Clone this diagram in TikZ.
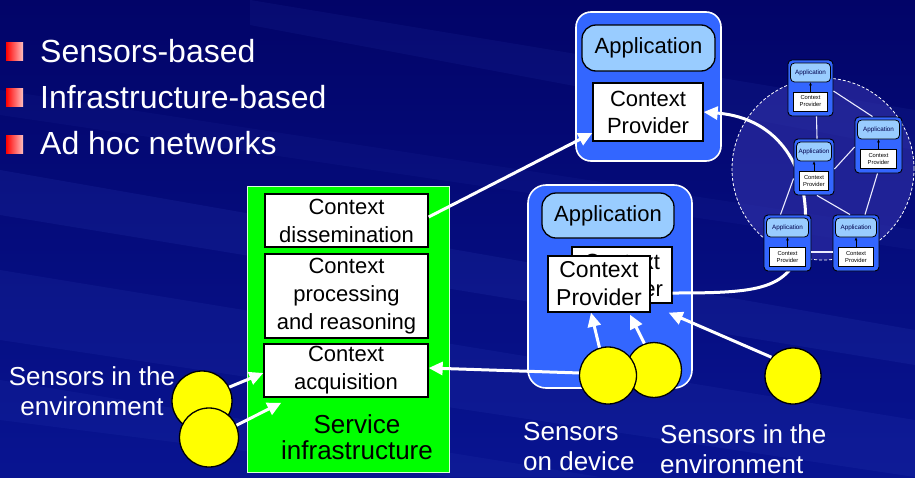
\documentclass[tikz,border=0pt]{standalone}
\usepackage{fontspec}
\setmainfont{Liberation Sans}
\usetikzlibrary{arrows.meta,shapes.geometric}
\definecolor{bgtop}{RGB}{2,4,104}
\definecolor{bgbot}{RGB}{8,20,145}
\definecolor{streak}{RGB}{60,80,200}
\definecolor{appblue}{RGB}{51,102,255}
\definecolor{applight}{RGB}{153,204,255}
\definecolor{infragreen}{RGB}{0,255,0}
\definecolor{sensy}{RGB}{255,255,0}
\definecolor{circfill}{RGB}{50,50,170}
\newcommand\fsz[2]{\fontsize{#1}{#2}\selectfont}
\newcommand\adhoc[4]{%
  \node[miniouter,minimum width=#4pt] (#1) at (#2,#3+28) {};
  \node[miniapp,minimum width=#4pt-5pt] (#1app) at (#2,#3+12.5) {Application};
  \node[minicp,minimum width=#4pt-11pt] (#1cp) at (#2,#3+41.5) {Context\\Provider};
  \draw[black,line width=0.6pt,-{Triangle[length=3pt,width=2.5pt]}] (#1cp.north) -- (#1app.south);
}
\begin{document}
\begin{tikzpicture}[x=1pt,y=-1pt,
 bigouter/.style={draw=white,line width=1.6pt,fill=appblue,rounded corners=15pt,inner sep=0pt},
 appin/.style={draw=black,line width=1.3pt,fill=applight,rounded corners=14pt,inner sep=0pt,font=\fsz{22}{27}},
 cpbox/.style={draw=black,line width=1.3pt,fill=white,inner sep=0pt,align=center,font=\fsz{22}{27}},
 infrabox/.style={draw=black,line width=1.3pt,fill=white,inner sep=0pt,align=center,font=\fsz{22}{28}},
 sensor/.style={circle,draw=black,line width=1.3pt,fill=sensy,inner sep=0pt},
 warrow/.style={draw=white,line width=3pt,-{Triangle[length=14pt,width=13pt]}},
 wline/.style={draw=white,line width=3pt},
 senslabel/.style={text=white,inner sep=0pt,font=\fsz{26}{30}},
 bullettext/.style={text=white,inner sep=0pt,anchor=base west,font=\fsz{32}{36}},
 miniouter/.style={draw=black,line width=0.9pt,fill=appblue,rounded corners=4pt,inner sep=0pt,minimum height=56pt},
 miniapp/.style={draw=black,line width=0.8pt,fill=applight,rounded corners=4pt,inner sep=0pt,minimum height=19pt,font=\fsz{6.3}{7},text=black!70!blue},
 minicp/.style={draw=black,line width=0.7pt,fill=white,inner sep=0pt,minimum height=19pt,align=center,font=\fsz{5.8}{7}},
 meshline/.style={draw=white!92!blue,line width=1.1pt},
]
\clip (0,0) rectangle (915,477);
% background
\shade[top color=bgtop,bottom color=bgbot] (0,0) rectangle (915,477);
\fill[streak,opacity=0.14] (0,170) -- (915,330) -- (915,365) -- (0,215) -- cycle;
\fill[streak,opacity=0.12] (0,270) -- (915,420) -- (915,477) -- (0,340) -- cycle;
\fill[streak,opacity=0.10] (250,0) -- (915,110) -- (915,150) -- (250,25) -- cycle;
\fill[streak,opacity=0.10] (0,380) -- (600,477) -- (450,477) -- (0,420) -- cycle;
\fill[streak,opacity=0.08] (0,90) -- (915,230) -- (915,250) -- (0,115) -- cycle;

% bullets
\foreach \yy in {51,97.5,144} {
  \shade[left color=red,right color=white!75!red] (6,\yy-9) rectangle (23,\yy+9);
}
\node[bullettext] (b1) at (40,62) {Sensors-based};
\node[bullettext] (b2) at (40,108) {Infrastructure-based};
\node[bullettext] (b3) at (40,154) {Ad hoc networks};

% ad hoc cloud
\draw[white,line width=0.8pt,dash pattern=on 3pt off 2pt,fill=circfill,fill opacity=0.6] (823,169) circle[radius=91pt];

% top application
\node[bigouter,minimum width=145pt,minimum height=149pt] (topbox) at (648.5,86.5) {};
\node[appin,minimum width=133pt,minimum height=46pt] (topapp) at (648.5,48) {Application};
\node[cpbox,minimum width=110pt,minimum height=58pt] (topcp) at (648,112) {Context\\Provider};

% second application
\node[bigouter,rounded corners=18pt,minimum width=164pt,minimum height=203pt] (devbox) at (610,286.5) {};
\node[appin,minimum width=132pt,minimum height=45pt] (devapp) at (608,215.5) {Application};
\node[cpbox,minimum width=100pt,minimum height=56pt] (bcp) at (622,275) {Context\\Provider};
\node[cpbox,font=\fsz{23}{28},minimum width=102pt,minimum height=56pt] (fcp) at (599,284) {Context\\Provider};

% service infrastructure
\node[draw=white!85!green,line width=1pt,fill=infragreen,inner sep=0pt,minimum width=202pt,minimum height=286pt] (infra) at (348,329) {};
\node[infrabox,minimum width=163pt,minimum height=53pt] (diss) at (346.5,220.5) {Context\\dissemination};
\node[infrabox,minimum width=163pt,minimum height=84pt] (proc) at (346.5,296) {Context\\processing\\and reasoning};
\node[infrabox,minimum width=164pt,minimum height=53pt] (acq) at (346,370.5) {Context\\acquisition};
\node[inner sep=0pt,align=center,anchor=north,font=\fsz{26}{26}] (infralabel) at (357,414) {Service\\infrastructure};

% arcs from the ad hoc network
\coordinate (hub) at (805,230);
\draw[warrow] (hub) .. controls (810,170) and (780,118) .. (topcp.east);
\draw[wline] (hub) .. controls (795,290) and (765,293) .. ([yshift=-18pt]bcp.east);

% ad hoc nodes
\adhoc{nt}{810.5}{60}{45}
\adhoc{nm}{814}{139}{40}
\adhoc{nr}{878.5}{117}{47}
\adhoc{nbl}{787.5}{215}{47}
\adhoc{nbr}{856}{215}{46}
\draw[meshline] ([xshift=6pt]nt.south) -- ([xshift=3pt]nm.north);
\draw[meshline] ([yshift=-3pt]nt.east) -- ([xshift=-6pt]nr.north);
\draw[meshline] ([yshift=17pt]nm.south west) -- ([xshift=-7pt]nbl.north);
\draw[meshline] ([yshift=-2pt]nm.east) -- ([yshift=-2pt]nr.west);
\draw[meshline] ([xshift=3pt]nm.south) -- ([xshift=-6pt]nbr.north);
\draw[meshline] ([xshift=-1pt]nr.south) -- ([xshift=9pt]nbr.north);
\draw[meshline] ([yshift=-9pt]nbl.east) -- ([yshift=-9pt]nbr.west);

% sensors
\node[sensor,minimum size=55pt] (c2) at (654,370) {};
\node[sensor,minimum size=57pt] (c1) at (608,375.5) {};
\node[sensor,minimum size=56pt] (c3) at (793,376) {};
\node[sensor,minimum size=60pt] (sa) at (202,401) {};
\node[sensor,minimum size=59pt] (sb) at (209,437.5) {};

% arrows
\draw[warrow] ([yshift=3.5pt]diss.east) -- ([yshift=-21pt]topcp.west);
\draw[warrow] (c1.175) -- ([yshift=2.5pt]acq.east);
\draw[warrow] (c1.107) -- ([xshift=-8pt]fcp.south);
\draw[warrow] (c2.110) -- ([xshift=31pt,yshift=-2pt]fcp.south);
\draw[warrow] (c3.139) -- ([xshift=-4pt,yshift=-9pt]bcp.south east);
\draw[warrow] (sa.27) -- ([yshift=-2.5pt]acq.west);
\draw[warrow] (sb.24) -- ([xshift=18pt,yshift=-5pt]acq.south west);

% labels
\node[senslabel,align=center,anchor=north] (envl) at (92,366) {Sensors in the\\environment};
\node[senslabel,align=left,anchor=north west] (devl) at (523,422) {Sensors\\on device};
\node[senslabel,align=left,anchor=north west] (envr) at (660,424) {Sensors in the\\environment};
\end{tikzpicture}
\end{document}
